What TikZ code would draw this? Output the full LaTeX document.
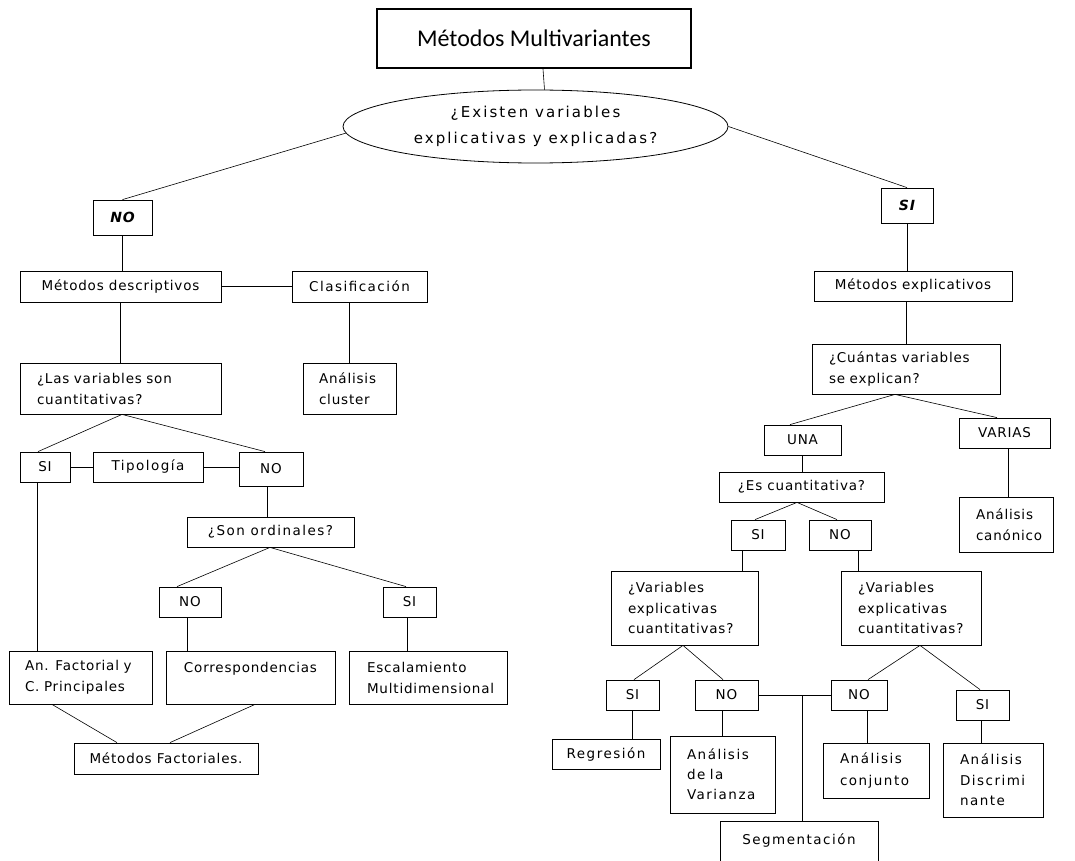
\documentclass[tikz,border=0pt]{standalone}
\usepackage{fontspec}
\usetikzlibrary{shapes.geometric}
\newfontfamily\bodyfont[LetterSpace=6]{DejaVu Sans}
\newfontfamily\widefont[LetterSpace=11]{DejaVu Sans}
\newfontfamily\ellfont[LetterSpace=14]{DejaVu Sans}
\newfontfamily\titlefont{Carlito}
\begin{document}
\begin{tikzpicture}[x=1pt,y=-1pt,
  box/.style={draw, line width=0.8pt, inner sep=0pt, align=center,
    font={\bodyfont\fontsize{13.5pt}{21pt}\selectfont}},
  wbox/.style={box, font={\widefont\fontsize{13.5pt}{21pt}\selectfont}},
  lbox/.style={box, align=left, inner xsep=17pt},
  bibox/.style={box, font={\bodyfont\bfseries\itshape\fontsize{14pt}{21pt}\selectfont}},
  conn/.style={line width=0.8pt},
  diag/.style={line width=0.6pt}]
\useasboundingbox (0,0) rectangle (1075,861);
\fill[white] (0,0) rectangle (1075,861);

% top
\node[draw, line width=2pt, minimum width=314pt, minimum height=59pt, inner sep=0pt,
  font={\titlefont\fontsize{24pt}{28pt}\selectfont}] (title) at (534,38.5) {Métodos Multivariantes};
\node[ellipse, draw, line width=0.8pt, minimum width=385pt, minimum height=73pt, inner sep=0pt,
  align=center, font={\ellfont\fontsize{15pt}{26pt}\selectfont}] (ell) at (535.5,126.5)
  {¿Existen variables\\explicativas y explicadas?};
\node[bibox, minimum width=59pt, minimum height=35pt] (notop) at (122.5,217.5) {NO};
\node[bibox, minimum width=52pt, minimum height=35pt] (sitop) at (907,205.5) {SI};

% left branch
\node[box, minimum width=201pt, minimum height=31pt] (mdesc) at (120.5,286.5) {Métodos descriptivos};
\node[wbox, minimum width=135pt, minimum height=31pt] (clasif) at (359.5,286.5) {Clasificación};
\node[lbox, text width=167pt, minimum height=51pt] (lasvar) at (120.5,388.5) {\mbox{¿Las variables son}\\\mbox{cuantitativas?}};
\node[lbox, inner xsep=16pt, text width=61pt, minimum height=51pt] (cluster) at (349.5,388.5) {\mbox{Análisis}\\\mbox{cluster}};
\node[box, minimum width=50pt, minimum height=30pt] (sil) at (45,467) {SI};
\node[wbox, minimum width=110pt, minimum height=30pt] (tipo) at (148,467) {Tipología};
\node[box, minimum width=64pt, minimum height=34pt] (nol) at (271,469) {NO};
\node[wbox, minimum width=167pt, minimum height=30pt] (sonord) at (270.5,532) {¿Son ordinales?};
\node[box, minimum width=62pt, minimum height=30pt] (nol2) at (190,602) {NO};
\node[box, minimum width=53pt, minimum height=30pt] (sil2) at (409.5,602) {SI};
\node[lbox, inner xsep=16pt, text width=111pt, minimum height=53pt] (anfact) at (80.5,677.5) {\mbox{An. Factorial y}\\\mbox{C. Principales}};
\node[box, minimum width=169pt, minimum height=53pt] (corresp) at (250.5,677.5) {Correspondencias\\~};
\node[lbox, inner xsep=18pt, text width=122pt, minimum height=53pt] (escal) at (428,677.5) {\mbox{Escalamiento}\\\mbox{Multidimensional}};
\node[box, minimum width=184pt, minimum height=31pt] (mfact) at (166,758.5) {Métodos Factoriales.};

% right branch
\node[box, minimum width=198pt, minimum height=30pt] (mexpl) at (913,286) {Métodos explicativos};
\node[lbox, text width=154pt, minimum height=50pt] (cuantas) at (906,369) {\mbox{¿Cuántas variables}\\\mbox{se explican?}};
\node[box, minimum width=77pt, minimum height=30pt] (una) at (802.5,440) {UNA};
\node[box, minimum width=91pt, minimum height=30pt] (varias) at (1004.5,433) {VARIAS};
\node[lbox, text width=60pt, minimum height=55pt] (canon) at (1006,524.5) {\mbox{Análisis}\\\mbox{canónico}};
\node[box, minimum width=165pt, minimum height=30pt] (escuant) at (801.5,487) {¿Es cuantitativa?};
\node[box, minimum width=54pt, minimum height=30pt] (sir) at (758,535) {SI};
\node[box, minimum width=62pt, minimum height=30pt] (nor) at (840,535) {NO};
\node[lbox, text width=113pt, minimum height=74pt,
  font={\bodyfont\fontsize{13.5pt}{20.5pt}\selectfont}] (varl) at (684.5,608) {\mbox{¿Variables}\\\mbox{explicativas}\\\mbox{cuantitativas?}};
\node[lbox, text width=106pt, minimum height=74pt,
  font={\bodyfont\fontsize{13.5pt}{20.5pt}\selectfont}] (varr) at (911,608) {\mbox{¿Variables}\\\mbox{explicativas}\\\mbox{cuantitativas?}};
\node[box, minimum width=53pt, minimum height=30pt] (sir2) at (632.5,695) {SI};
\node[box, minimum width=63pt, minimum height=30pt] (nor2) at (726.5,695) {NO};
\node[box, minimum width=56pt, minimum height=30pt] (nor3) at (859,695) {NO};
\node[box, minimum width=53pt, minimum height=30pt] (sir3) at (982.5,705) {SI};
\node[wbox, minimum width=108pt, minimum height=30pt] (regr) at (606,754) {Regresión};
\node[lbox, text width=71pt, minimum height=77pt,
  font={\widefont\fontsize{13.5pt}{20pt}\selectfont}] (avar) at (722.5,774.5) {\mbox{Análisis}\\\mbox{de la}\\\mbox{Varianza}};
\node[lbox, text width=72pt, minimum height=55pt,
  font={\widefont\fontsize{13.5pt}{22pt}\selectfont}] (aconj) at (876,770.5) {\mbox{Análisis}\\\mbox{conjunto}};
\node[lbox, text width=66pt, minimum height=74pt,
  font={\widefont\fontsize{13.5pt}{20.5pt}\selectfont}] (adisc) at (993,780) {\mbox{Análisis}\\\mbox{Discrimi}\\\mbox{nante}};
\node[wbox, minimum width=158pt, minimum height=49pt] (segm) at (799,845.5) {Segmentación\\[-8pt]~};
\coordinate (junc) at (802,695);

% connectors top
\draw[conn, line width=0.6pt] ([xshift=9pt]title.south) -- ([xshift=9pt]ell.north);
\draw[diag] (ell.182) -- (notop.north);
\draw[diag] (ell.east) -- (sitop.north);
\draw[conn] (notop.south) -- (notop.south |- mdesc.north);
\draw[conn] (sitop.south) -- (sitop.south |- mexpl.north);

% left connectors
\draw[conn] (mdesc.east) -- (clasif.west);
\draw[conn] (mdesc.south) -- (lasvar.north);
\draw[conn] (cluster.north |- clasif.south) -- (cluster.north);
\draw[diag] ([xshift=1.5pt]lasvar.south) -- ([xshift=-7pt]sil.north);
\draw[diag] ([xshift=1.5pt]lasvar.south) -- ([xshift=-6pt]nol.north);
\draw[conn] (sil.east) -- (tipo.west);
\draw[conn] (tipo.east) -- (tipo.east -| nol.west);
\draw[conn] ([xshift=-8pt]sil.south) -- ([xshift=-8pt]sil.south |- anfact.north);
\draw[conn] ([xshift=-4pt]nol.south) -- ([xshift=-4pt]nol.south |- sonord.north);
\draw[diag] ([xshift=-0.5pt]sonord.south) -- ([xshift=-13pt]nol2.north);
\draw[diag] ([xshift=-0.5pt]sonord.south) -- ([xshift=-3.5pt]sil2.north);
\draw[conn] ([xshift=-3pt]nol2.south) -- ([xshift=-3pt]nol2.south |- corresp.north);
\draw[conn] ([xshift=-2.5pt]sil2.south) -- ([xshift=-2.5pt]sil2.south |- escal.north);
\draw[diag] ([xshift=-28.5pt]anfact.south) -- ([xshift=-49pt]mfact.north);
\draw[diag] ([xshift=4.5pt]corresp.south) -- ([xshift=4pt]mfact.north);

% right connectors
\draw[conn, line width=0.6pt] (cuantas.north |- mexpl.south) -- (cuantas.north);
\draw[diag] ([xshift=-11pt]cuantas.south) -- ([xshift=-12.5pt]una.north);
\draw[diag] ([xshift=-11pt]cuantas.south) -- ([xshift=-7.5pt]varias.north);
\draw[conn, line width=0.6pt] ([xshift=3.5pt]varias.south) -- ([xshift=3.5pt]varias.south |- canon.north);
\draw[conn] (una.south) -- (una.south |- escuant.north);
\draw[diag] ([xshift=-4.5pt]escuant.south) -- ([xshift=-3pt]sir.north);
\draw[diag] ([xshift=-4.5pt]escuant.south) -- ([xshift=-3pt]nor.north);
\draw[conn] ([xshift=-16pt]sir.south) -- ([xshift=-16pt]sir.south |- varl.north);
\draw[conn] ([xshift=18pt]nor.south) -- ([xshift=18pt]nor.south |- varr.north);
\draw[diag] ([xshift=-1.5pt]varl.south) -- ([xshift=1.5pt]sir2.north);
\draw[diag] ([xshift=-1.5pt]varl.south) -- ([xshift=-3.5pt]nor2.north);
\draw[diag] ([xshift=9pt]varr.south) -- ([xshift=9pt]nor3.north);
\draw[diag] ([xshift=9pt]varr.south) -- ([xshift=-2.5pt]sir3.north);
\draw[conn] (nor2.east) -- (nor3.west);
\draw[conn] (junc) -- (junc |- segm.north);
\draw[conn] (sir2.south) -- (sir2.south |- regr.north);
\draw[conn] ([xshift=-4.5pt]nor2.south) -- ([xshift=-4.5pt]nor2.south |- avar.north);
\draw[conn] ([xshift=8pt]nor3.south) -- ([xshift=8pt]nor3.south |- aconj.north);
\draw[conn] ([xshift=-1.5pt]sir3.south) -- ([xshift=-1.5pt]sir3.south |- adisc.north);
\end{tikzpicture}
\end{document}
